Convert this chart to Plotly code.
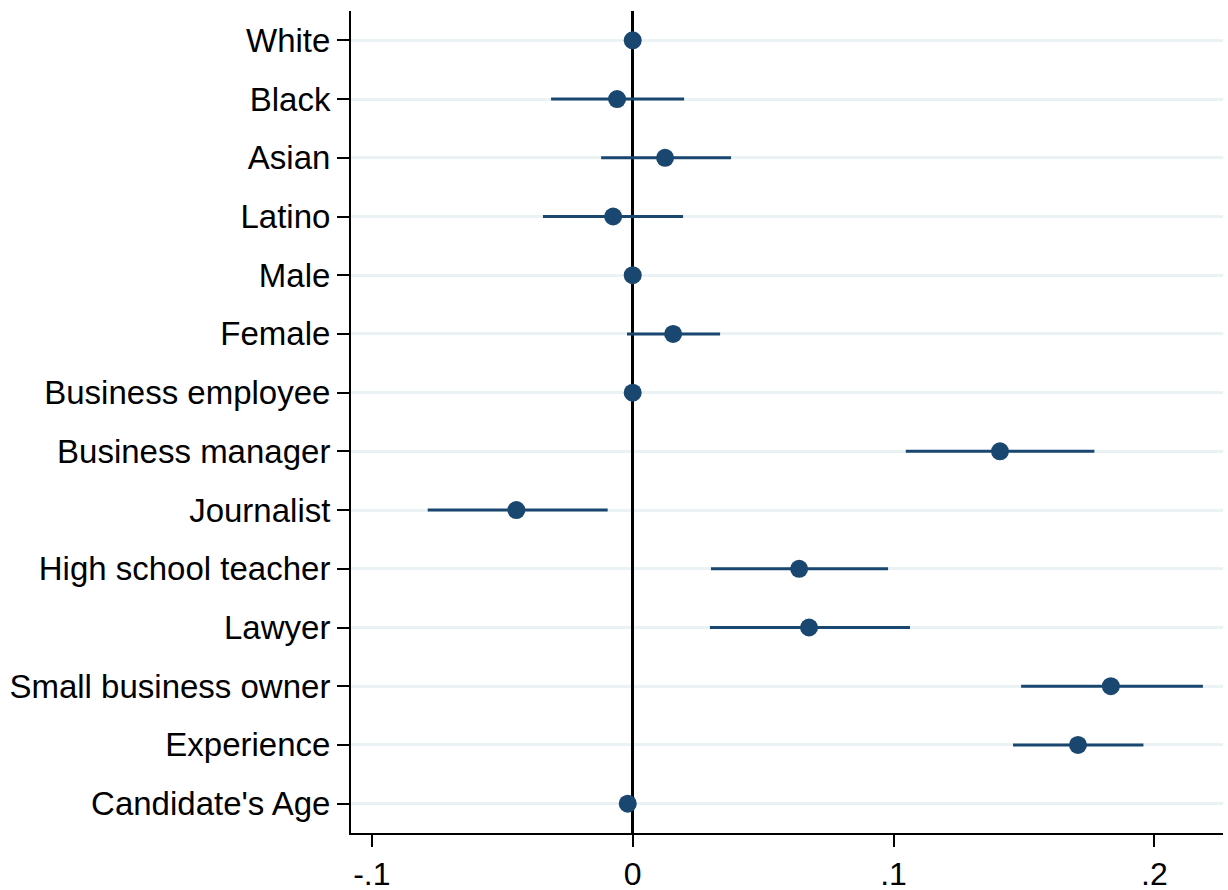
import plotly.graph_objects as go

# Coefficient estimates with 95% confidence intervals
labels = [
    "White", "Black", "Asian", "Latino", "Male", "Female",
    "Business employee", "Business manager", "Journalist",
    "High school teacher", "Lawyer", "Small business owner",
    "Experience", "Candidate's Age",
]
estimates = [0.0, -0.006, 0.0124, -0.0075, 0.0, 0.0155,
             0.0, 0.1408, -0.0446, 0.0638, 0.0676, 0.1833,
             0.1707, -0.0019]
ci_low = [0.0, -0.0313, -0.0121, -0.0344, 0.0, -0.0022,
          0.0, 0.1047, -0.0786, 0.0300, 0.0296, 0.1489,
          0.1458, -0.0019]
ci_high = [0.0, 0.0197, 0.0377, 0.0193, 0.0, 0.0335,
           0.0, 0.1770, -0.0096, 0.0979, 0.1063, 0.2186,
           0.1958, -0.0019]

tick_vals = [-0.1, 0.0, 0.1, 0.2]
tick_text = ["-.1", "0", ".1", ".2"]

navy = "#1a476f"

fig = go.Figure()
fig.add_trace(go.Scatter(
    x=estimates,
    y=labels,
    mode="markers",
    marker=dict(color=navy, size=18, line=dict(width=0)),
    error_x=dict(
        type="data",
        symmetric=False,
        array=[h - e for h, e in zip(ci_high, estimates)],
        arrayminus=[e - l for e, l in zip(estimates, ci_low)],
        color=navy,
        thickness=3,
        width=0,
    ),
    showlegend=False,
    cliponaxis=False,
))

fig.update_layout(
    width=1228,
    height=890,
    margin=dict(l=351, r=5, t=11, b=57),
    paper_bgcolor="white",
    plot_bgcolor="white",
    font=dict(family="Liberation Sans, Arial, sans-serif", color="black"),
    xaxis=dict(
        range=[-0.108, 0.2263],
        tickmode="array",
        tickvals=tick_vals,
        ticktext=tick_text,
        tickfont=dict(size=32),
        ticks="outside",
        ticklen=12,
        tickwidth=2,
        tickcolor="black",
        showgrid=False,
        zeroline=True,
        zerolinecolor="black",
        zerolinewidth=3,
        showline=True,
        linecolor="black",
        linewidth=2,
        mirror=False,
        automargin=False,
    ),
    yaxis=dict(
        type="category",
        categoryorder="array",
        categoryarray=labels,
        range=[13.5, -0.5],
        tickfont=dict(size=33),
        ticks="outside",
        ticklen=12,
        tickwidth=2,
        tickcolor="black",
        showgrid=True,
        gridcolor="#eaf2f3",
        gridwidth=3,
        zeroline=False,
        showline=True,
        linecolor="black",
        linewidth=2,
        mirror=False,
        automargin=False,
    ),
)

fig.write_html("out.html")
